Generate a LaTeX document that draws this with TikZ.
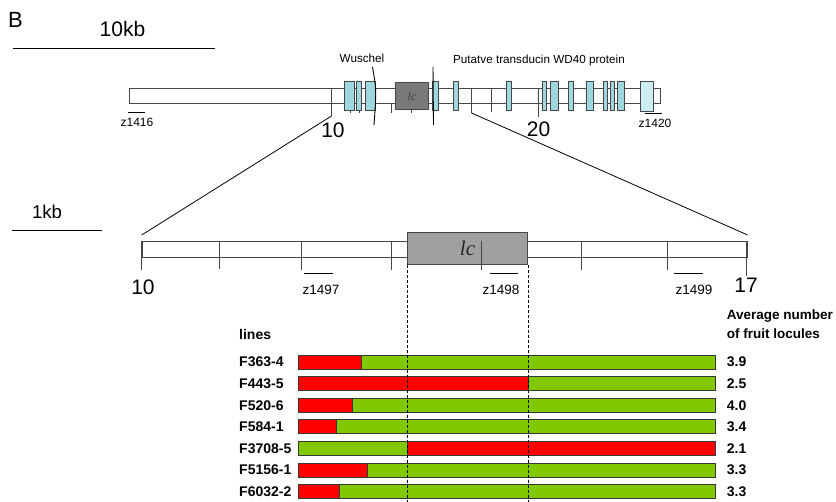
\documentclass[tikz,border=0pt]{standalone}
\usepackage{fontspec}
\setmainfont{Liberation Sans}
\newfontfamily\lcfont{Liberation Serif}
\usepackage{tikz}
\usetikzlibrary{positioning,calc}
\definecolor{exoncol}{RGB}{158,216,222}
\definecolor{exonpale}{RGB}{204,238,242}
\definecolor{lcdark}{RGB}{122,122,122}
\definecolor{lclight}{RGB}{160,160,160}
\definecolor{mapline}{RGB}{70,70,70}
\definecolor{barred}{RGB}{255,0,0}
\definecolor{bargreen}{RGB}{128,200,0}
\tikzset{
  mapbox/.style={draw=mapline, line width=0.9pt, fill=white, inner sep=0pt},
  maptick/.style={draw=mapline, line width=0.8pt},
  exon/.style={draw=mapline, line width=0.8pt, fill=exoncol},
  lcbox/.style={draw=mapline, line width=0.8pt, inner sep=0pt},
  marker/.style={line width=0.9pt},
  genelabel/.style={font=\fontsize{11.7}{14}\selectfont, inner sep=0pt},
  zlabel/.style={font=\fontsize{13.5}{16}\selectfont, inner sep=0pt},
  bignum/.style={font=\fontsize{21}{25}\selectfont, inner sep=0pt},
  rowlabel/.style={font=\fontsize{14}{16}\selectfont\bfseries, inner sep=0pt, anchor=west},
  barpart/.style={draw=mapline!80!black, line width=0.8pt},
  cutline/.style={line width=0.8pt, dash pattern=on 3pt off 2pt},
}

\begin{document}
\begin{tikzpicture}[x=1pt, y=-1pt]
  \useasboundingbox (0,0) rectangle (836,502);
  % scale bars
  \node[font=\fontsize{22}{26}\selectfont, inner sep=0pt] (panel) at (15.5,20) {B};
  \node[font=\fontsize{21}{25}\selectfont, inner sep=0pt] (kb10) at (122.5,29) {10kb};
  \draw[line width=0.9pt] (13,48) -- (215,48);
  \node[font=\fontsize{18.6}{22}\selectfont, inner sep=0pt] (kb1) at (47,212) {1kb};
  \draw[line width=0.9pt] (12,230) -- (102,230);

  % 10 kb map
  \node[mapbox, minimum width=531pt, minimum height=15pt, anchor=north west] (topmap) at (129,88) {};
  \foreach \x/\y in {331.5/116, 471.5/113, 491.5/112, 538.5/117}
    \draw[maptick] (\x,88) -- (\x,\y);
  \foreach \x in {350.5, 359.5, 391.5, 411.5}
    \draw[maptick] (\x,103) -- (\x,113);
  \foreach \a/\b in {344/354, 356/361, 365/375, 432/438, 453/458, 506/511, 542.5/546.5,
      550.5/558, 568/573, 586.5/593, 603/607, 610/614, 617.5/624.5}
    \draw[exon] (\a,81) rectangle (\b,110);
  \draw[exon, fill=exonpale] (640,81) rectangle (653,111);
  \node[lcbox, fill=lcdark, minimum width=33pt, minimum height=27pt] (lctop) at (412,96)
    {\lcfont\itshape\fontsize{12}{14}\selectfont\color{black!75}lc};
  \draw[marker] (372.5,67) .. controls (376.5,90) .. (374,125);
  \draw[marker] (433,67) -- (433.5,125);
  \node[genelabel] (wus) at (362,58) {Wuschel};
  \node[genelabel] (wd40) at (539,60) {Putatve transducin WD40 protein};
  \draw[marker] (128,112) -- (145,112);
  \node[zlabel, font=\fontsize{12}{14}\selectfont] (z1416) at (137,122) {z1416};
  \draw[marker] (645,113) -- (662,113);
  \node[zlabel, font=\fontsize{12}{14}\selectfont] (z1420) at (655,123) {z1420};
  \node[bignum] (n10a) at (333,130) {10};
  \node[bignum] (n20) at (538.5,129) {20};
  \coordinate (t10) at (331.5,116);
  \coordinate (tlc) at (471.5,113);

  % 1 kb map
  \node[mapbox, minimum width=605pt, minimum height=16pt, anchor=north west] (zoommap) at (141.7,241) {};
  \draw[line width=0.8pt] (t10) -- ([yshift=6pt]zoommap.north west);
  \draw[line width=0.8pt] (tlc) -- ([yshift=6pt]zoommap.north east);
  \foreach \x/\y in {141.7/270, 219.3/269, 301/270, 391/270, 581/270, 667.7/270, 746.7/276}
    \draw[maptick] (\x,241) -- (\x,\y);
  \node[lcbox, fill=lclight, minimum width=120.4pt, minimum height=32pt] (lczoom) at (467.5,248.3)
    {\lcfont\itshape\fontsize{21}{25}\selectfont\color{black!85}lc};
  \draw[maptick] (481.7,241) -- (481.7,270);
  \draw[marker] (304,273) -- (333,273);
  \draw[marker] (490,273) -- (518,273);
  \draw[marker] (674,273) -- (703,273);
  \node[zlabel] (z1497) at (321,290) {z1497};
  \node[zlabel] (z1498) at (501,290) {z1498};
  \node[zlabel] (z1499) at (694,290) {z1499};
  \node[bignum] (n10b) at (143,287) {10};
  \node[bignum] (n17) at (746,285) {17};

  % lines
  \node[rowlabel] (lines) at (239,334) {lines};
  \node[rowlabel, font=\fontsize{13.5}{16}\selectfont\bfseries] (avg1) at (726.7,316) {Average number};
  \node[rowlabel, font=\fontsize{13.5}{16}\selectfont\bfseries] (avg2) at (726.7,334) {of fruit locules};
  \foreach \lname/\cut/\first/\second/\val [count=\i] in {
      F363-4/361.7/barred/bargreen/3.9, F443-5/528.7/barred/bargreen/2.5,
      F520-6/352.3/barred/bargreen/4.0, F584-1/336.7/barred/bargreen/3.4,
      F3708-5/407.3/bargreen/barred/2.1, F5156-1/367.3/barred/bargreen/3.3,
      F6032-2/339.3/barred/bargreen/3.3} {
    \pgfmathsetmacro\yc{362+21.6*(\i-1)}
    \node[rowlabel] (lab\i) at (239,\yc) {\lname};
    \draw[barpart, fill=\first] (298.7,\yc-7) rectangle (\cut,\yc+7);
    \draw[barpart, fill=\second] (\cut,\yc-7) rectangle (715,\yc+7);
    \node[rowlabel] (val\i) at (726.7,\yc) {\val};
  }
  \coordinate (cutl) at (lczoom.south west |- 0,502);
  \coordinate (cutr) at (lczoom.south east |- 0,502);
  \draw[cutline] (lczoom.south west) -- (cutl);
  \draw[cutline] (lczoom.south east) -- (cutr);
\end{tikzpicture}
\end{document}
